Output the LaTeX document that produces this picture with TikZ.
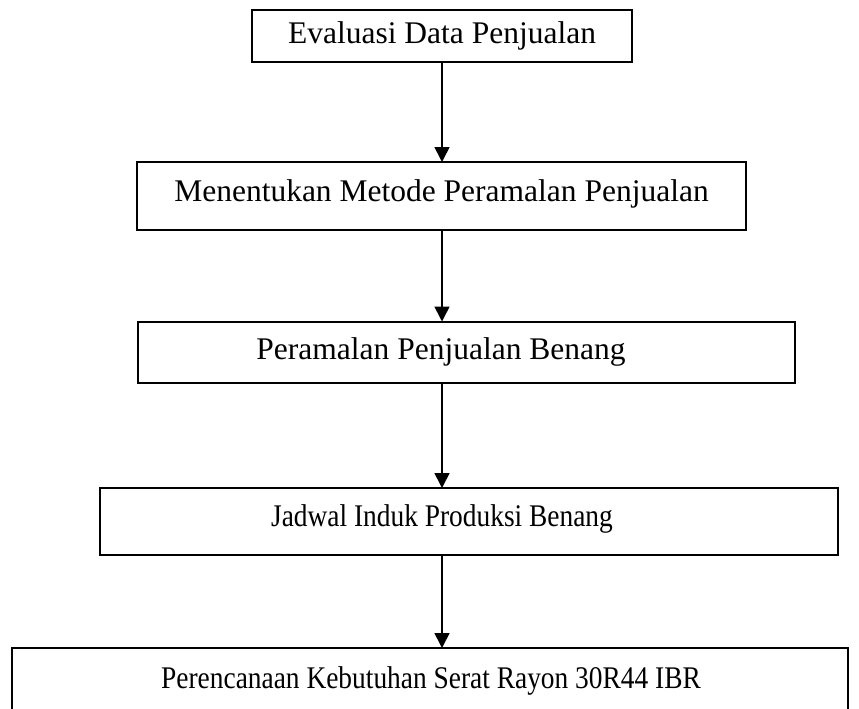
\documentclass[tikz,border=0pt]{standalone}
\usepackage{graphicx}
\usepackage{fontspec}
\setmainfont{Liberation Serif}
\usetikzlibrary{arrows.meta}
\tikzset{
  flowbox/.style={draw=black, line width=2pt, rectangle, inner sep=0pt, outer sep=0pt, fill=none},
  flowtxt/.style={font=\fontsize{31.5}{36}\selectfont, inner sep=0pt, anchor=base},
  flowarr/.style={draw=black, line width=1.6pt, -{Triangle[length=15pt,width=15pt]}}
}
\newcommand{\narrowtext}[1]{\scalebox{0.87}[1]{#1}}
\begin{document}
\begin{tikzpicture}[x=1pt,y=-1pt]
\useasboundingbox (0,0) rectangle (859,709);
% boxes (center x, center y, width, height)
\node[flowbox, minimum width=380pt, minimum height=52pt] (b1) at (442,36) {};
\node[flowbox, minimum width=609pt, minimum height=68pt] (b2) at (441.5,196) {};
\node[flowbox, minimum width=657pt, minimum height=61pt] (b3) at (466.5,352) {};
\node[flowbox, minimum width=738pt, minimum height=67pt] (b4) at (469,521.5) {};
\node[flowbox, minimum width=836pt, minimum height=64pt] (b5) at (430,680) {};
% texts
\node[flowtxt] (t1) at (442,43.5) {Evaluasi Data Penjualan};
\node[flowtxt] (t2) at (441.5,201.5) {Menentukan Metode Peramalan Penjualan};
\node[flowtxt] (t3) at (441,359.5) {Peramalan Penjualan Benang};
\node[flowtxt] (t4) at (442,526) {\narrowtext{Jadwal Induk Produksi Benang}};
\node[flowtxt] (t5) at (431,688) {\narrowtext{Perencanaan Kebutuhan Serat Rayon 30R44 IBR}};
% arrows
\draw[flowarr] (b1.south -| 442,0) -- (b2.north -| 442,0);
\draw[flowarr] (b2.south -| 442,0) -- (b3.north -| 442,0);
\draw[flowarr] (b3.south -| 442,0) -- (b4.north -| 442,0);
\draw[flowarr] (b4.south -| 442,0) -- (b5.north -| 442,0);
\end{tikzpicture}
\end{document}
